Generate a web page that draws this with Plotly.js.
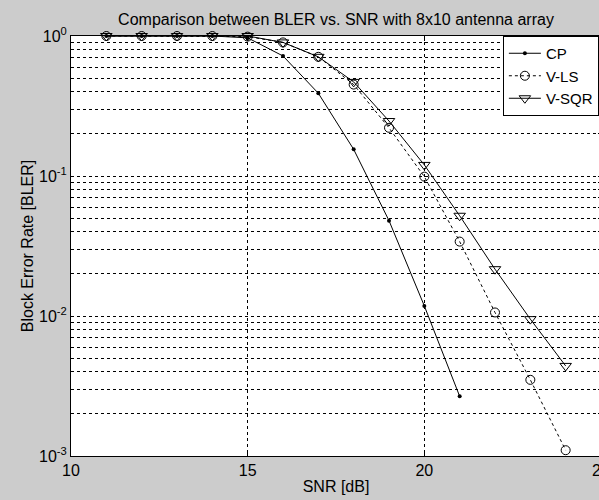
<!DOCTYPE html>
<html>
<head>
<meta charset="utf-8">
<script src="https://cdn.plot.ly/plotly-3.0.1.min.js"></script>
<style>
  html, body { margin: 0; padding: 0; overflow: hidden; background: #cccccc; }
  #chart { width: 602px; height: 500px; }
</style>
</head>
<body>
<div id="chart"></div>
<script>
// ---- Data ----
const snrCP = [11, 12, 13, 14, 15, 16, 17, 18, 19, 20, 21];
const blerCP = [1.0, 1.0, 1.0, 1.0, 0.97, 0.72, 0.39, 0.155, 0.048, 0.0118, 0.00267];

const snrVLS = [11, 12, 13, 14, 15, 16, 17, 18, 19, 20, 21, 22, 23, 24];
const blerVLS = [1.0, 1.0, 1.0, 1.0, 0.99, 0.9, 0.71, 0.45, 0.221, 0.099, 0.034, 0.0106, 0.0035, 0.0011];

const snrVSQR = [11, 12, 13, 14, 15, 16, 17, 18, 19, 20, 21, 22, 23, 24];
const blerVSQR = [1.0, 1.0, 1.0, 1.0, 1.0, 0.9, 0.71, 0.47, 0.247, 0.12, 0.052, 0.0216, 0.0095, 0.0044];

const seriesNames = ["CP", "V-LS", "V-SQR"];

const xTickVals = [10, 15, 20, 25];
const xTickText = ["10", "15", "20", "25"];

const yTickVals = [0.001, 0.002, 0.003, 0.004, 0.005, 0.006, 0.007, 0.008, 0.009,
                   0.01, 0.02, 0.03, 0.04, 0.05, 0.06, 0.07, 0.08, 0.09,
                   0.1, 0.2, 0.3, 0.4, 0.5, 0.6, 0.7, 0.8, 0.9, 1];
const yTickText = ["10<sup>-3</sup>", "", "", "", "", "", "", "", "",
                   "10<sup>-2</sup>", "", "", "", "", "", "", "", "",
                   "10<sup>-1</sup>", "", "", "", "", "", "", "", "",
                   "10<sup>0</sup>"];

const titleText = "Comparison between BLER vs. SNR with 8x10 antenna array";
const xTitle = "SNR [dB]";
const yTitle = "Block Error Rate [BLER]";

// ---- Traces ----
const traces = [
  {
    x: snrCP, y: blerCP, name: seriesNames[0], type: "scatter", mode: "lines+markers",
    line: { color: "#000", width: 1 },
    marker: { symbol: "circle", size: 4, color: "#000" },
    cliponaxis: false
  },
  {
    x: snrVLS, y: blerVLS, name: seriesNames[1], type: "scatter", mode: "lines+markers",
    line: { color: "#000", width: 1, dash: "3px,3px" },
    marker: { symbol: "circle-open", size: 9, color: "#000", line: { width: 1, color: "#000" } },
    cliponaxis: false
  },
  {
    x: snrVSQR, y: blerVSQR, name: seriesNames[2], type: "scatter", mode: "lines+markers",
    line: { color: "#000", width: 1 },
    marker: { symbol: "triangle-down-open", size: 10, color: "#000", line: { width: 1, color: "#000" } },
    cliponaxis: false
  }
];

const fontFam = "'Liberation Sans', Arial, sans-serif";
const gridDash = "3px,3px";

const layout = {
  width: 602,
  height: 500,
  paper_bgcolor: "#cccccc",
  plot_bgcolor: "#ffffff",
  font: { family: fontFam, size: 15, color: "#000" },
  margin: { l: 71, r: 1, t: 36, b: 44, autoexpand: false },
  showlegend: true,
  title: {
    text: titleText,
    font: { family: fontFam, size: 16, color: "#000" },
    xref: "paper", x: 0.5, xanchor: "center",
    yref: "container", y: 0.962, yanchor: "middle"
  },
  xaxis: {
    type: "linear",
    range: [10, 25],
    tickmode: "array",
    tickvals: xTickVals,
    ticktext: xTickText,
    ticks: "inside",
    ticklen: 5,
    tickcolor: "#000",
    ticklabeloverflow: "allow",
    showline: true,
    linecolor: "#000",
    linewidth: 1,
    mirror: "ticks",
    showgrid: true,
    gridcolor: "#000",
    gridwidth: 1,
    griddash: gridDash,
    zeroline: false,
    tickfont: { family: fontFam, size: 16, color: "#000" },
    title: { text: xTitle, font: { family: fontFam, size: 16, color: "#000" }, standoff: 2 }
  },
  yaxis: {
    type: "log",
    range: [-3, 0],
    tickmode: "array",
    tickvals: yTickVals,
    ticktext: yTickText,
    ticks: "inside",
    ticklen: 3,
    tickcolor: "#000",
    showline: true,
    linecolor: "#000",
    linewidth: 1,
    mirror: "ticks",
    showgrid: true,
    gridcolor: "#000",
    gridwidth: 1,
    griddash: gridDash,
    zeroline: false,
    tickfont: { family: fontFam, size: 16, color: "#000" },
    title: { text: yTitle, font: { family: fontFam, size: 16, color: "#000" }, standoff: 1 }
  },
  legend: {
    x: 0.996, xanchor: "right",
    y: 1, yanchor: "top",
    bgcolor: "#ffffff",
    bordercolor: "#000",
    borderwidth: 1,
    itemwidth: 32,
    font: { family: fontFam, size: 15, color: "#000" },
    tracegroupgap: 0
  }
};

Plotly.newPlot("chart", traces, layout, { displayModeBar: false, staticPlot: true });
</script>
</body>
</html>
